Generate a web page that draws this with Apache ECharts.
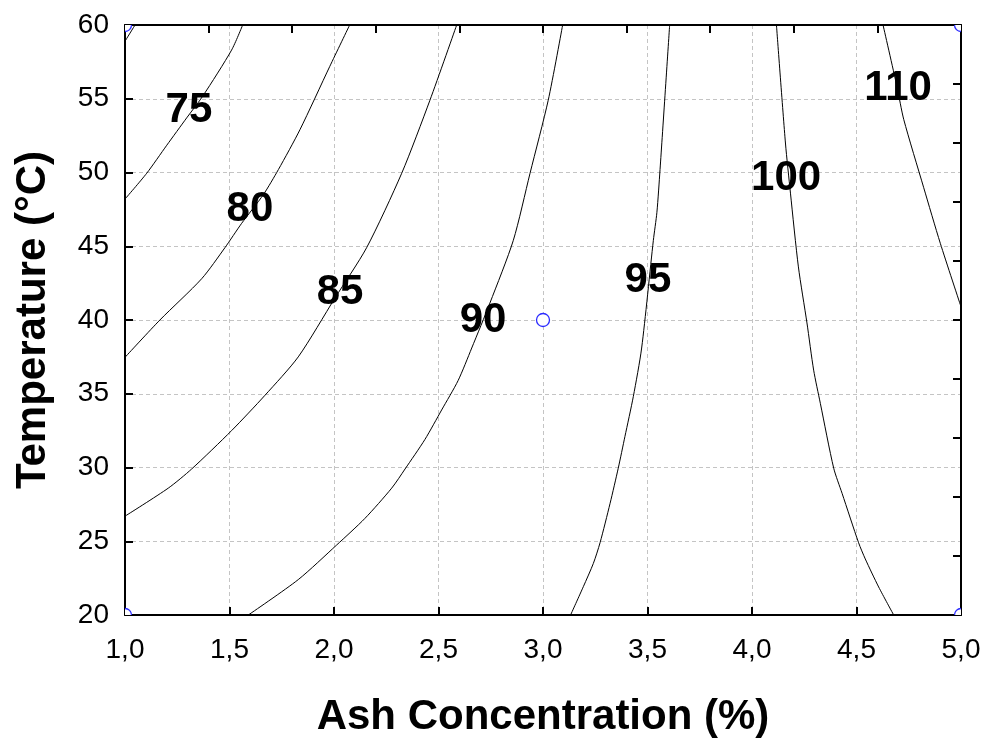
<!DOCTYPE html>
<html>
<head>
<meta charset="utf-8">
<script src="https://cdn.jsdelivr.net/npm/echarts@6/dist/echarts.min.js"></script>
<style>
html,body{margin:0;padding:0;background:#fff;}
#chart{width:987px;height:740px;}
</style>
</head>
<body>
<div id="chart"></div>
<script>
// Axis ranges / ticks
var xMin = 1.0, xMax = 5.0, xStep = 0.5, xMinorTopStep = 0.4;
var yMin = 20, yMax = 60, yStep = 5, yRightStep = 4;

// Contour lines: [ash %, temperature °C]
var contour70 = [[1.0,58.9],[1.048,60]];
var contour75 = [[1.0,48.2],[1.104,49.95],[1.2,51.85],[1.295,53.7],[1.373,55.2],[1.51,58.3],[1.563,60]];
var contour80 = [[1.0,37.47],[1.167,40],[1.367,42.8],[1.478,44.9],[1.558,46.55],[1.662,48.5],[1.734,50.2],[1.837,52.9],[1.98,57.2],[2.075,60]];
var contour85 = [[1.0,26.7],[1.207,28.6],[1.319,29.9],[1.51,32.5],[1.67,34.9],[1.829,37.5],[2.005,41.5],[2.156,44.9],[2.324,49.95],[2.459,54.9],[2.587,60]];
var contour90 = [[1.59,20],[1.829,22.4],[2.013,24.75],[2.148,26.55],[2.276,28.6],[2.34,29.9],[2.435,31.9],[2.515,33.9],[2.594,35.9],[2.659,38.1],[2.746,41.15],[2.858,45.4],[2.938,49.95],[3.025,54.9],[3.094,60]];
var contour95 = [[3.132,20],[3.193,21.92],[3.241,23.5],[3.273,24.9],[3.321,27.57],[3.36,29.95],[3.392,32.1],[3.432,34.8],[3.472,38.1],[3.528,45.4],[3.545,47.3],[3.56,50.2],[3.606,60]];
var contour100 = [[4.117,60],[4.16,52],[4.184,48.6],[4.222,43.6],[4.263,39.8],[4.295,36.6],[4.327,34.35],[4.391,29.95],[4.431,28.25],[4.51,24.9],[4.542,23.8],[4.606,21.9],[4.678,20]];
var contour110 = [[4.627,60],[4.694,55.8],[4.726,53.6],[4.821,49.0],[4.901,45.2],[5.0,40.9]];

// Contour labels: [text, ash %, temperature °C]
var contourLabels = [["75",1.306,54.2],["80",1.598,47.5],["85",2.029,41.9],["90",2.713,40.0],["95",3.502,42.7],["100",4.163,49.6],["110",4.699,55.7]];

// Design points
var designPoints = [[1,20],[1,60],[3,40],[5,20],[5,60]];

var contours = [contour70, contour75, contour80, contour85, contour90, contour95, contour100, contour110];

function fmtX(v){ return (Math.round(v*10)/10).toFixed(1).replace('.', ','); }

var font = '"Liberation Sans", Arial, sans-serif';

var series = contours.map(function(c){
  return {
    type: 'line', data: c, xAxisIndex: 0, yAxisIndex: 0,
    showSymbol: false, symbol: 'none', smooth: 0.25, clip: true,
    lineStyle: {color: '#000', width: 1}, silent: true, animation: false, z: 3
  };
});

series.push({
  type: 'custom', xAxisIndex: 0, yAxisIndex: 0, clip: true, animation: false, z: 4,
  data: designPoints,
  renderItem: function(params, api){
    var p = api.coord([api.value(0), api.value(1)]);
    return {type: 'circle', shape: {cx: p[0], cy: p[1], r: 6.5},
      style: {fill: '#fff', stroke: '#2a2aff', lineWidth: 1.3}};
  }
});

series.push({
  type: 'custom', xAxisIndex: 0, yAxisIndex: 0, clip: false, animation: false, z: 5,
  data: contourLabels.map(function(d){ return [d[1], d[2]]; }),
  renderItem: function(params, api){
    var p = api.coord([api.value(0), api.value(1)]);
    return {type: 'text', x: p[0], y: p[1],
      style: {text: contourLabels[params.dataIndex][0], fill: '#000',
        font: 'bold 42px ' + font, textAlign: 'center', textVerticalAlign: 'middle'}};
  }
});

var chart = echarts.init(document.getElementById('chart'), null, {renderer: 'canvas'});
chart.setOption({
  backgroundColor: '#fff',
  animation: false,
  grid: {left: 125, right: 26, top: 25, bottom: 125, containLabel: false, outerBoundsMode: 'none'},
  xAxis: [{
    type: 'value', min: xMin, max: xMax, interval: xStep, position: 'bottom',
    name: 'Ash Concentration (%)', nameLocation: 'middle', nameGap: 81,
    nameTextStyle: {fontFamily: font, fontWeight: 'bold', fontSize: 42, color: '#000'},
    axisLine: {show: true, onZero: false, lineStyle: {color: '#000', width: 2}},
    axisTick: {show: true, inside: true, length: 8, lineStyle: {color: '#000', width: 2}},
    axisLabel: {fontFamily: font, fontSize: 28, color: '#000', margin: 21, formatter: fmtX},
    splitLine: {show: true, lineStyle: {color: '#c4c4c4', type: [4,3], width: 1}}
  },{
    type: 'value', min: xMin, max: xMax, interval: xMinorTopStep, position: 'top',
    axisLine: {show: true, onZero: false, lineStyle: {color: '#000', width: 2}},
    axisTick: {show: true, inside: true, length: 8, lineStyle: {color: '#000', width: 2}},
    axisLabel: {show: false}, splitLine: {show: false}
  }],
  yAxis: [{
    type: 'value', min: yMin, max: yMax, interval: yStep, position: 'left',
    name: 'Temperature (°C)', nameLocation: 'middle', nameGap: 71, nameRotate: 90,
    nameTextStyle: {fontFamily: font, fontWeight: 'bold', fontSize: 42, color: '#000'},
    axisLine: {show: true, onZero: false, lineStyle: {color: '#000', width: 2}},
    axisTick: {show: true, inside: true, length: 8, lineStyle: {color: '#000', width: 2}},
    axisLabel: {fontFamily: font, fontSize: 28, color: '#000', margin: 16},
    splitLine: {show: true, lineStyle: {color: '#c4c4c4', type: [4,3], width: 1}}
  },{
    type: 'value', min: yMin, max: yMax, interval: yRightStep, position: 'right',
    axisLine: {show: true, onZero: false, lineStyle: {color: '#000', width: 2}},
    axisTick: {show: true, inside: true, length: 8, lineStyle: {color: '#000', width: 2}},
    axisLabel: {show: false}, splitLine: {show: false}
  }],
  series: series
});
</script>
</body>
</html>
